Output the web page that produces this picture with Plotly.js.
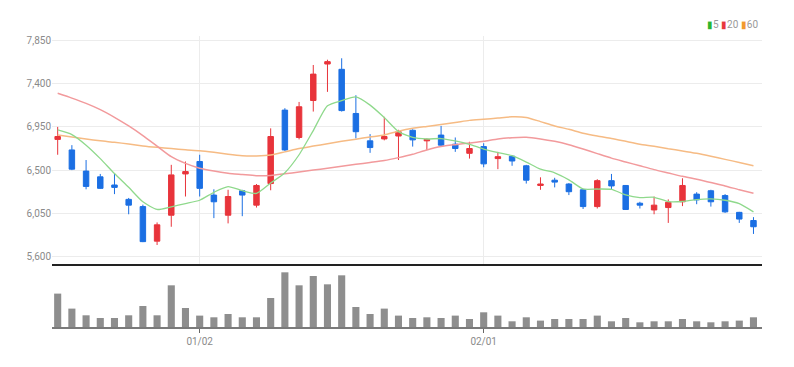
<!DOCTYPE html>
<html>
<head>
<meta charset="utf-8">
<script src="https://cdn.plot.ly/plotly-3.0.1.min.js"></script>
<style>html,body{margin:0;padding:0;background:#fff;}#chart{width:794px;height:367px;}</style>
</head>
<body>
<div id="chart"></div>
<script>
// ---- data ----
const tickPos   = [10, 30];
const tickText  = ['01/02', '02/01'];
const yTicks    = [5600, 6050, 6500, 6950, 7400, 7850];

const openP  = [6820,6710,6490,6430,6345,6195,6120,5760,6030,6460,6590,6240,6030,6285,6135,6360,7125,6840,7225,7605,
                7550,7090,6805,6825,6855,6915,6805,6865,6770,6675,6745,6620,6645,6545,6340,6395,6355,6295,6120,6390,
                6340,6155,6085,6110,6170,6250,6285,6235,6060,5975];
const highP  = [6950,6760,6605,6460,6460,6210,6140,5955,6555,6590,6660,6300,6295,6295,6355,6935,7145,7210,7595,7650,
                7665,7280,6875,7055,6920,6925,6830,6960,6840,6795,6780,6690,6655,6555,6425,6420,6365,6300,6405,6460,
                6345,6170,6225,6195,6415,6270,6295,6250,6065,6010];
const lowP   = [6660,6500,6300,6305,6250,6040,5750,5720,5910,6225,6225,6000,5945,6020,6110,6290,6700,6820,7110,7315,
                7110,6830,6680,6810,6605,6745,6710,6750,6690,6620,6530,6510,6545,6360,6295,6320,6240,6095,6100,6295,
                6085,6100,6040,5950,6125,6145,6120,6055,5950,5835];
const closeP = [6850,6510,6330,6310,6320,6135,5755,5930,6450,6485,6310,6170,6225,6240,6340,6850,6710,7160,7500,7630,
                7120,6900,6735,6850,6900,6815,6820,6760,6725,6725,6565,6640,6595,6395,6355,6375,6275,6120,6390,6335,
                6090,6135,6135,6165,6340,6190,6170,6065,5990,5910];

const ma5  = [6918,6870,6760,6620,6464,6321,6170,6090,6118,6151,6186,6269,6328,6286,6257,6365,6473,6660,6912,7170,
              7224,7262,7177,7047,6901,6840,6824,6829,6804,6769,6719,6683,6650,6584,6510,6472,6399,6304,6303,6299,
              6242,6214,6217,6172,6173,6193,6200,6186,6151,6065];
const ma20 = [7300,7250,7195,7130,7050,6960,6860,6750,6640,6570,6520,6490,6468,6455,6442,6445,6462,6480,6500,6520,
              6540,6560,6580,6600,6630,6665,6710,6745,6765,6782,6800,6825,6838,6842,6825,6800,6765,6720,6672,6625,
              6585,6545,6505,6470,6435,6405,6370,6335,6295,6258];
const ma60 = [6866,6845,6825,6805,6790,6772,6752,6737,6725,6712,6702,6685,6665,6650,6648,6657,6690,6725,6750,6775,
              6800,6822,6845,6866,6905,6935,6955,6975,6995,7018,7030,7042,7055,7048,7005,6960,6925,6885,6855,6830,
              6800,6770,6748,6722,6700,6675,6645,6612,6580,6546];

const volume = [334,184,117,90,90,117,210,117,417,190,114,97,130,97,97,290,547,417,510,427,
                517,200,130,184,114,90,97,90,114,80,147,114,57,97,64,80,80,80,114,57,
                90,47,57,57,80,57,47,57,64,97];

const xs = closeP.map((_, i) => i);

const RED = '#e8343b', BLUE = '#1b6fe3';

const traces = [
  {type:'candlestick', x:xs, open:openP, high:highP, low:lowP, close:closeP, xaxis:'x', yaxis:'y',
   increasing:{line:{color:RED,width:1}, fillcolor:RED},
   decreasing:{line:{color:BLUE,width:1}, fillcolor:BLUE},
   whiskerwidth:0, hoverinfo:'skip', showlegend:false},
  {type:'scatter', mode:'lines', x:xs, y:ma60, line:{color:'#f6bb84', width:1.5, shape:'spline', smoothing:0.6}, xaxis:'x', yaxis:'y', showlegend:false, hoverinfo:'skip'},
  {type:'scatter', mode:'lines', x:xs, y:ma20, line:{color:'#f29a9c', width:1.5, shape:'spline', smoothing:0.6}, xaxis:'x', yaxis:'y', showlegend:false, hoverinfo:'skip'},
  {type:'scatter', mode:'lines', x:xs, y:ma5,  line:{color:'#8fd98c', width:1.3, shape:'spline', smoothing:0.6}, xaxis:'x', yaxis:'y', showlegend:false, hoverinfo:'skip'},
  {type:'bar', x:xs, y:volume, width:0.5, marker:{color:'#8e8e8e'}, xaxis:'x2', yaxis:'y2', showlegend:false, hoverinfo:'skip'}
];

const FONT = 'Liberation Sans Narrow, Roboto, Arial, sans-serif';

const layout = {
  width:794, height:367,
  margin:{l:52, r:32, t:36, b:40},
  paper_bgcolor:'#fff', plot_bgcolor:'#fff',
  font:{family:FONT, size:10, color:'#8a8a8a'},
  showlegend:false,
  boxgap:0.45,
  xaxis:{domain:[0,1], anchor:'y', range:[-0.4,49.6], tickvals:tickPos, ticktext:tickText,
         showticklabels:false, ticks:'', showgrid:true, gridcolor:'#ececec', gridwidth:1,
         showline:true, linecolor:'#222', linewidth:2, zeroline:false,
         rangeslider:{visible:false}, fixedrange:true},
  yaxis:{domain:[0.2165,1], anchor:'x', range:[5522,7897], tickvals:yTicks, tickformat:',d',
         showgrid:true, gridcolor:'#ececec', gridwidth:1, zeroline:false, showline:false, ticks:'',
         tickfont:{family:FONT, size:10, color:'#8a8a8a'}},
  xaxis2:{domain:[0,1], anchor:'y2', matches:'x', range:[-0.4,49.6], tickvals:tickPos, ticktext:tickText,
          showgrid:false, showline:true, linecolor:'#7a7a7a', linewidth:2, zeroline:false,
          ticks:'outside', ticklen:4, tickcolor:'#666', tickwidth:1,
          tickfont:{family:FONT, size:10, color:'#8a8a8a'}},
  yaxis2:{domain:[0,0.2027], anchor:'x2', range:[0,590], showgrid:false, showticklabels:false,
          zeroline:false, showline:false, ticks:''},
  annotations:[{
    xref:'paper', yref:'paper', x:0.997, y:1.038, xanchor:'right', yanchor:'middle', showarrow:false,
    text:'<span style="color:#2db52d">▮</span>5 <span style="color:#e8383d">▮</span>20 <span style="color:#f29a2e">▮</span>60',
    font:{family:FONT, size:10, color:'#999'}
  }]
};

Plotly.newPlot('chart', traces, layout, {staticPlot:true, displayModeBar:false});
</script>
</body>
</html>
